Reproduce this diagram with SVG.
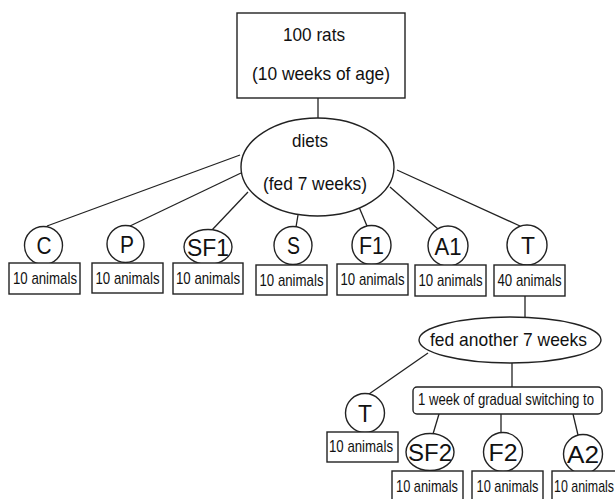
<svg xmlns="http://www.w3.org/2000/svg" width="615" height="499" viewBox="0 0 615 499">
<style>
.s{fill:#fff;stroke:#222;stroke-width:1.4}
.c line{stroke:#222;stroke-width:1.3}
text{font-family:"Liberation Sans",Arial,sans-serif;fill:#111;text-anchor:middle}
.big{font-size:19px}
.let{font-size:24px}
.an{font-size:17px}
.sw{font-size:16.5px}
</style>
<rect width="615" height="499" fill="#fff"/>
<g id="connectors" class="c">
<line x1="318" y1="98" x2="318" y2="118"/>
<line x1="240" y1="155" x2="47" y2="226"/>
<line x1="241" y1="173" x2="130" y2="226"/>
<line x1="248" y1="192" x2="212" y2="230"/>
<line x1="298" y1="215" x2="296" y2="227"/>
<line x1="359" y1="207" x2="367" y2="226"/>
<line x1="390" y1="187" x2="438" y2="229"/>
<line x1="397" y1="170" x2="520" y2="226"/>
<line x1="525" y1="296" x2="525" y2="317"/>
<line x1="428" y1="353" x2="369" y2="394"/>
<line x1="512" y1="363" x2="512" y2="387"/>
<line x1="439" y1="414" x2="433" y2="434"/>
<line x1="501" y1="414" x2="501" y2="433"/>
<line x1="573" y1="414" x2="578" y2="435"/>
</g>
<g id="rats">
<rect class="s" x="237" y="13" width="168" height="85"/>
<text class="big" x="314" y="41" textLength="62" lengthAdjust="spacingAndGlyphs">100 rats</text>
<text class="big" x="321" y="80" textLength="138" lengthAdjust="spacingAndGlyphs">(10 weeks of age)</text>
</g>
<g id="diets">
<ellipse class="s" cx="317.5" cy="167" rx="76.5" ry="49"/>
<text class="big" x="310" y="147" textLength="36" lengthAdjust="spacingAndGlyphs">diets</text>
<text class="big" x="315" y="190" textLength="104" lengthAdjust="spacingAndGlyphs">(fed 7 weeks)</text>
</g>
<g id="C">
<circle class="s" cx="43.5" cy="245.5" r="19"/>
<text class="let" x="44" y="254" textLength="15" lengthAdjust="spacingAndGlyphs">C</text>
<rect class="s" x="9" y="263" width="71" height="31"/>
<text class="an" x="45" y="284" textLength="64" lengthAdjust="spacingAndGlyphs">10 animals</text>
</g>
<g id="P">
<circle class="s" cx="125.5" cy="244" r="18.5"/>
<text class="let" x="127" y="252.5" textLength="14" lengthAdjust="spacingAndGlyphs">P</text>
<rect class="s" x="92" y="263" width="71" height="30"/>
<text class="an" x="127.5" y="284" textLength="64" lengthAdjust="spacingAndGlyphs">10 animals</text>
</g>
<g id="SF1">
<ellipse class="s" cx="208" cy="247" rx="24" ry="17.5"/>
<text class="let" x="208" y="256" textLength="42" lengthAdjust="spacingAndGlyphs">SF1</text>
<rect class="s" x="173" y="263" width="70" height="31"/>
<text class="an" x="208" y="284" textLength="64" lengthAdjust="spacingAndGlyphs">10 animals</text>
</g>
<g id="S">
<circle class="s" cx="293" cy="245.5" r="19"/>
<text class="let" x="293.5" y="254" textLength="13" lengthAdjust="spacingAndGlyphs">S</text>
<rect class="s" x="256" y="265" width="71" height="30"/>
<text class="an" x="291.5" y="286" textLength="64" lengthAdjust="spacingAndGlyphs">10 animals</text>
</g>
<g id="F1">
<circle class="s" cx="371.5" cy="245" r="19.5"/>
<text class="let" x="371.5" y="253.5" textLength="25" lengthAdjust="spacingAndGlyphs">F1</text>
<rect class="s" x="337" y="264" width="71" height="31"/>
<text class="an" x="372.5" y="285" textLength="64" lengthAdjust="spacingAndGlyphs">10 animals</text>
</g>
<g id="A1">
<circle class="s" cx="448" cy="246" r="20"/>
<text class="let" x="448" y="254.5" textLength="27" lengthAdjust="spacingAndGlyphs">A1</text>
<rect class="s" x="415" y="265" width="71" height="31"/>
<text class="an" x="450.5" y="286" textLength="64" lengthAdjust="spacingAndGlyphs">10 animals</text>
</g>
<g id="T1">
<circle class="s" cx="527" cy="245" r="20"/>
<text class="let" x="528" y="253.5" textLength="14" lengthAdjust="spacingAndGlyphs">T</text>
<rect class="s" x="494" y="265" width="71" height="31"/>
<text class="an" x="529.5" y="286" textLength="64" lengthAdjust="spacingAndGlyphs">40 animals</text>
</g>
<g id="fed-another">
<ellipse class="s" cx="510" cy="340" rx="91" ry="23"/>
<text class="big" x="508.5" y="346" textLength="157" lengthAdjust="spacingAndGlyphs">fed another 7 weeks</text>
</g>
<g id="T2">
<circle class="s" cx="365" cy="413" r="19.5"/>
<text class="let" x="365" y="421.5" textLength="14" lengthAdjust="spacingAndGlyphs">T</text>
<rect class="s" x="327" y="432" width="71" height="30"/>
<text class="an" x="361" y="452" textLength="64" lengthAdjust="spacingAndGlyphs">10 animals</text>
</g>
<g id="switching">
<rect class="s" x="413" y="387" width="189" height="27" rx="4"/>
<text class="sw" x="506" y="405" textLength="176" lengthAdjust="spacingAndGlyphs">1 week of gradual switching to</text>
</g>
<g id="SF2">
<ellipse class="s" cx="430" cy="452" rx="24" ry="18.5"/>
<text class="let" x="430" y="461" textLength="44" lengthAdjust="spacingAndGlyphs">SF2</text>
<rect class="s" x="392" y="471" width="71" height="29"/>
<text class="an" x="427" y="492" textLength="62" lengthAdjust="spacingAndGlyphs">10 animals</text>
</g>
<g id="F2">
<circle class="s" cx="503" cy="452" r="19.5"/>
<text class="let" x="503" y="461" textLength="29" lengthAdjust="spacingAndGlyphs">F2</text>
<rect class="s" x="472" y="471" width="71" height="29"/>
<text class="an" x="507.5" y="492" textLength="62" lengthAdjust="spacingAndGlyphs">10 animals</text>
</g>
<g id="A2">
<circle class="s" cx="583" cy="454" r="19.5"/>
<text class="let" x="583" y="463" textLength="32" lengthAdjust="spacingAndGlyphs">A2</text>
<rect class="s" x="552" y="471" width="71" height="29"/>
<text class="an" x="584" y="492" textLength="60" lengthAdjust="spacingAndGlyphs">10 animals</text>
</g>
</svg>
